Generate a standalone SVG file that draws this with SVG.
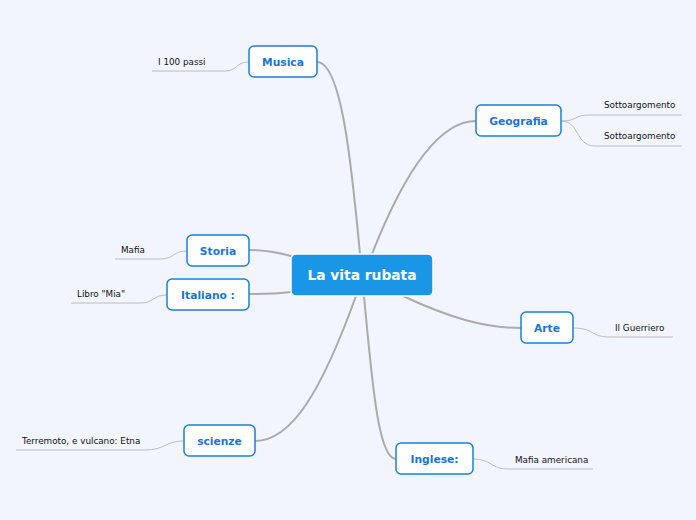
<svg xmlns="http://www.w3.org/2000/svg" width="696" height="520" viewBox="0 0 696 520">
<style>
.bg{fill:#f2f5fe}
.main{fill:#1a96e6;stroke:#ffffff;stroke-width:1.5}
.mt{font-family:"DejaVu Sans",Verdana,sans-serif;font-weight:bold;font-size:13.8px;fill:#ffffff;text-anchor:middle}
.nd{fill:#ffffff;stroke:#1a7fe0;stroke-width:1.5}
.nt{font-family:"DejaVu Sans",Verdana,sans-serif;font-weight:bold;font-size:10.7px;fill:#1a74e0;text-anchor:middle}
.st{font-family:"DejaVu Sans",Verdana,sans-serif;font-size:8.8px;fill:#111111}
.c{fill:none;stroke:#ababab;stroke-width:2;stroke-linecap:round}
.s{fill:none;stroke:#bcbcbc;stroke-width:1}
</style>
<rect class="bg" x="0" y="0" width="696" height="520"/>
<g id="connectors">
<path class="c" d="M360,254 C352,170 342,62 317,62"/>
<path class="c" d="M372,254 C405,170 440,121 476,121"/>
<path class="c" d="M291,256 C275,252 265,250 249,250"/>
<path class="c" d="M291,292 C275,294 265,294 249,294"/>
<path class="c" d="M403,296 C450,318 485,328 521,328"/>
<path class="c" d="M356,296 C322,390 292,441 255,441"/>
<path class="c" d="M364,296 C372,380 378,459 396,459"/>
<path class="s" d="M249,62 C235,62 238,71 225,71 L152,71"/>
<path class="s" d="M561,121 C578,121 573,115 590,115 L682,115"/>
<path class="s" d="M561,121 C580,121 575,146 595,146 L682,146"/>
<path class="s" d="M187,251 C172,251 175,259 160,259 L115,259"/>
<path class="s" d="M167,295 C152,295 155,303 140,303 L71,303"/>
<path class="s" d="M573,328 C595,328 590,337 610,337 L673,337"/>
<path class="s" d="M184,441 C165,441 165,450 145,450 L16,450"/>
<path class="s" d="M473,459 C492,459 490,469 508,469 L593,469"/>
</g>
<g id="n-center">
<rect class="main" x="291" y="254" width="142" height="42" rx="5"/>
<text class="mt" x="362" y="280">La vita rubata</text>
</g>
<g id="n-musica">
<rect class="nd" x="249" y="46" width="68" height="31" rx="5"/>
<text class="nt" x="283" y="66">Musica</text>
</g>
<g id="n-musica-sub"><text class="st" x="158" y="65">I 100 passi</text></g>
<g id="n-geografia">
<rect class="nd" x="476" y="105" width="85" height="31" rx="5"/>
<text class="nt" x="518.5" y="125">Geografia</text>
</g>
<g id="n-geo-sub1"><text class="st" x="604" y="108">Sottoargomento</text></g>
<g id="n-geo-sub2"><text class="st" x="604" y="139">Sottoargomento</text></g>
<g id="n-storia">
<rect class="nd" x="187" y="235" width="62" height="31" rx="5"/>
<text class="nt" x="218" y="255">Storia</text>
</g>
<g id="n-storia-sub"><text class="st" x="121" y="253">Mafia</text></g>
<g id="n-italiano">
<rect class="nd" x="167" y="279" width="82" height="31" rx="5"/>
<text class="nt" x="208" y="299">Italiano :</text>
</g>
<g id="n-italiano-sub"><text class="st" x="77" y="297">Libro "Mia"</text></g>
<g id="n-arte">
<rect class="nd" x="521" y="312" width="52" height="31" rx="5"/>
<text class="nt" x="547" y="332">Arte</text>
</g>
<g id="n-arte-sub"><text class="st" x="615" y="331">Il Guerriero</text></g>
<g id="n-scienze">
<rect class="nd" x="184" y="425" width="71" height="31" rx="5"/>
<text class="nt" x="219.5" y="445">scienze</text>
</g>
<g id="n-scienze-sub"><text class="st" x="22" y="444">Terremoto, e vulcano: Etna</text></g>
<g id="n-inglese">
<rect class="nd" x="396" y="443" width="77" height="31" rx="5"/>
<text class="nt" x="434.5" y="463">Inglese:</text>
</g>
<g id="n-inglese-sub"><text class="st" x="515" y="463">Mafia americana</text></g>
</svg>
